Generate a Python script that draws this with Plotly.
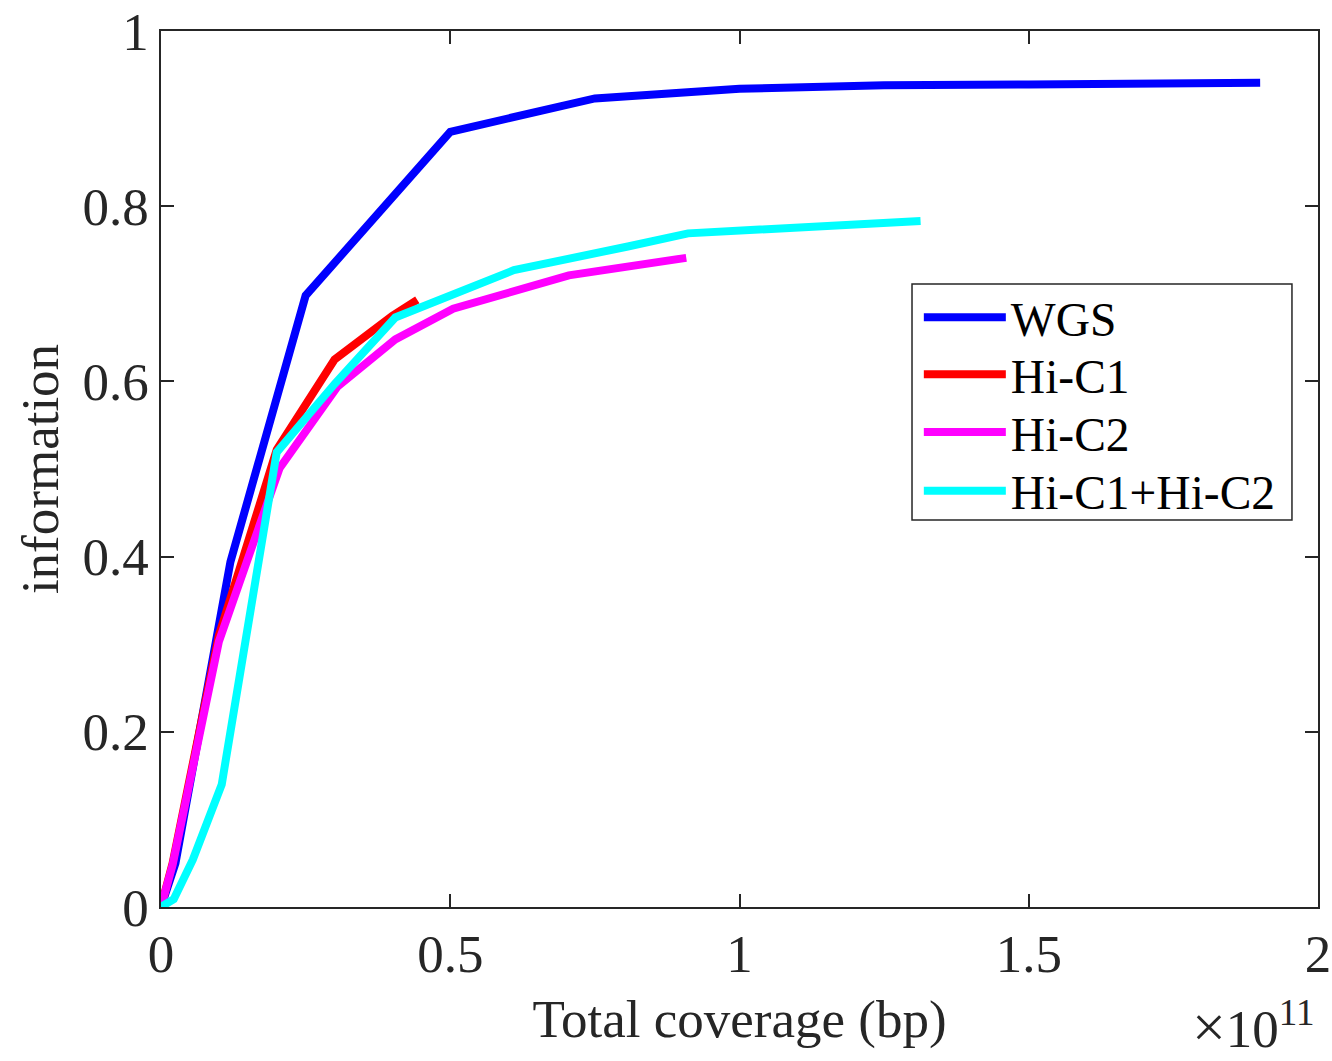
import plotly.graph_objects as go

# Total coverage in units of 1e11 bp, information fraction
wgs_x = [0, 0.025, 0.12, 0.25, 0.5, 0.75, 1.0, 1.25, 1.5, 1.75, 1.9]
wgs_y = [0, 0.05, 0.394, 0.698, 0.885, 0.923, 0.934, 0.938, 0.939, 0.940, 0.941]

hic1_x = [0, 0.02, 0.1, 0.2, 0.3, 0.4, 0.443]
hic1_y = [0, 0.05, 0.31, 0.522, 0.625, 0.675, 0.693]

hic2_x = [0, 0.02, 0.1, 0.205, 0.305, 0.405, 0.505, 0.61, 0.705, 0.908]
hic2_y = [0, 0.048, 0.303, 0.501, 0.594, 0.648, 0.683, 0.704, 0.721, 0.741]

both_x = [0, 0.022, 0.055, 0.105, 0.2, 0.3, 0.405, 0.5, 0.61, 0.807, 0.911, 1.313]
both_y = [0, 0.009, 0.054, 0.14, 0.519, 0.597, 0.673, 0.699, 0.727, 0.754, 0.769, 0.783]

series = [
    ("WGS", wgs_x, wgs_y, "#0000FF"),
    ("Hi-C1", hic1_x, hic1_y, "#FF0000"),
    ("Hi-C2", hic2_x, hic2_y, "#FF00FF"),
    ("Hi-C1+Hi-C2", both_x, both_y, "#00FFFF"),
]

x_ticks = [0, 0.5, 1, 1.5, 2]
x_tick_labels = ["0", "0.5", "1", "1.5", "2"]
y_ticks = [0, 0.2, 0.4, 0.6, 0.8, 1]
y_tick_labels = ["0", "0.2", "0.4", "0.6", "0.8", "1"]

FONT = "Liberation Serif"
AX = "#262626"

# one legend per entry so the rows can be spaced tightly inside a shared box
legend_ids = ["legend", "legend2", "legend3", "legend4"]
legend_rows = [0.673, 0.608, 0.542, 0.475]

fig = go.Figure()
for (name, xs, ys, color), lid in zip(series, legend_ids):
    fig.add_trace(go.Scatter(x=xs, y=ys, mode="lines", name=name, legend=lid,
                             line=dict(color=color, width=8)))

layout_legends = {}
for lid, ypos in zip(legend_ids, legend_rows):
    layout_legends[lid] = dict(
        x=0.655, y=ypos, xanchor="left", yanchor="middle",
        bgcolor="rgba(0,0,0,0)", borderwidth=0,
        font=dict(family=FONT, size=47.5, color="black"),
        itemwidth=82,
    )

fig.update_layout(
    width=1332, height=1061,
    margin=dict(l=161, r=14, t=31, b=154, autoexpand=False),
    paper_bgcolor="white", plot_bgcolor="white",
    font=dict(family=FONT, size=53, color=AX),
    showlegend=True,
    **layout_legends,
)

# legend frame
fig.add_shape(type="rect", xref="paper", yref="paper",
              x0=0.6491, x1=0.9775, y0=0.4418, y1=0.7112,
              line=dict(color=AX, width=1.5), fillcolor="white", layer="below")

axis_common = dict(
    showline=True, linecolor=AX, linewidth=1.5, mirror="ticks",
    ticks="inside", ticklen=13, tickwidth=1.5, tickcolor=AX,
    showgrid=False, zeroline=False, automargin=False,
    tickfont=dict(family=FONT, size=53, color=AX),
)

fig.update_xaxes(
    range=[0, 2], tickvals=x_ticks, ticktext=x_tick_labels,
    title=dict(text="Total coverage (bp)", font=dict(family=FONT, size=53, color=AX), standoff=18),
    **axis_common,
)
fig.update_yaxes(
    range=[0, 1], tickvals=y_ticks, ticktext=y_tick_labels,
    title=dict(text="information", font=dict(family=FONT, size=53, color=AX), standoff=7),
    **axis_common,
)

# exponent of the x axis
fig.add_annotation(
    xref="paper", yref="paper", x=0.998, y=-0.1755, xanchor="right", yanchor="bottom",
    text="<span style='font-size:60px'>×</span>10<sup>11</sup>", showarrow=False, borderpad=0,
    font=dict(family=FONT, size=53, color=AX),
)

fig.write_html("out.html")
